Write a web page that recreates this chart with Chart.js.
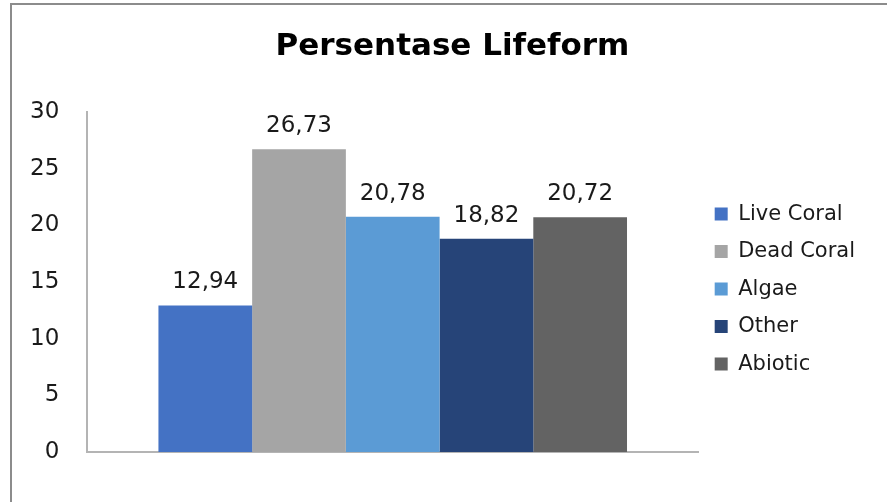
<!DOCTYPE html>
<html>
<head>
<meta charset="utf-8">
<script src="https://cdn.jsdelivr.net/npm/chart.js@4/dist/chart.umd.min.js"></script>
<style>
  html, body { margin: 0; padding: 0; background: #ffffff; }
  #wrap { position: relative; width: 887px; height: 502px; overflow: hidden; }
  #frame { position: absolute; left: 10px; top: 3px; width: 1000px; height: 1000px;
           border-left: 2px solid #8c8c8c; border-top: 2px solid #8c8c8c; pointer-events: none; }
  canvas { position: absolute; left: 0; top: 0; }
</style>
</head>
<body>
<div id="wrap">
  <canvas id="c" width="887" height="502"></canvas>
  <div id="frame"></div>
</div>
<script>
const chartTitle = "Persentase Lifeform";
const categories = [""];
const seriesNames = ["Live Coral", "Dead Coral", "Algae", "Other", "Abiotic"];
const seriesValues = [12.94, 26.73, 20.78, 18.82, 20.72];
const seriesColors = ["#4472C4", "#A5A5A5", "#5B9BD5", "#264478", "#636363"];
const yTicks = [0, 5, 10, 15, 20, 25, 30];

const datasets = seriesNames.map((name, i) => ({
  label: name,
  data: [seriesValues[i]],
  backgroundColor: seriesColors[i],
  borderWidth: 0,
  barPercentage: 1.0,
  categoryPercentage: 0.767
}));

const valueLabels = {
  id: 'valueLabels',
  afterDatasetsDraw(chart) {
    const ctx = chart.ctx;
    ctx.save();
    ctx.font = '23px "DejaVu Sans"';
    ctx.fillStyle = '#1a1a1a';
    ctx.textAlign = 'center';
    ctx.textBaseline = 'alphabetic';
    chart.data.datasets.forEach((ds, di) => {
      const meta = chart.getDatasetMeta(di);
      meta.data.forEach((el, j) => {
        const v = ds.data[j];
        ctx.fillText(v.toFixed(2).replace('.', ','), el.x, el.y - 17);
      });
    });
    ctx.restore();
  }
};

const titleShift = {
  id: 'titleShift',
  afterLayout(chart) {
    if (chart.titleBlock) chart.titleBlock.left += 38;
  }
};

new Chart(document.getElementById('c'), {
  type: 'bar',
  data: { labels: categories, datasets },
  plugins: [valueLabels, titleShift],
  options: {
    responsive: false,
    animation: false,
    layout: { padding: { left: 2, right: 22, top: 0, bottom: 50 } },
    plugins: {
      title: {
        display: true,
        text: chartTitle,
        color: '#000000',
        font: { family: '"DejaVu Sans"', size: 31, weight: 'bold' },
        padding: { top: 28, bottom: 47 }
      },
      legend: {
        position: 'right',
        align: 'center',
        fullSize: false,
        title: { display: true, text: ' ', font: { size: 10 }, padding: 1 },
        labels: {
          boxWidth: 13,
          boxHeight: 13,
          padding: 16.5,
          color: '#1a1a1a',
          font: { family: '"DejaVu Sans"', size: 21 }
        }
      },
      tooltip: { enabled: false }
    },
    scales: {
      x: {
        grid: { display: false, drawTicks: false },
        ticks: { display: false },
        border: { display: true, color: '#b4b4b4', width: 2 }
      },
      y: {
        min: 0,
        max: 30,
        afterBuildTicks(scale) { scale.ticks = yTicks.map(v => ({ value: v })); },
        grid: { display: false, drawTicks: false },
        border: { display: true, color: '#b4b4b4', width: 2 },
        ticks: {
          padding: 28,
          color: '#1a1a1a',
          font: { family: '"DejaVu Sans"', size: 23 }
        }
      }
    }
  }
});
</script>
</body>
</html>
